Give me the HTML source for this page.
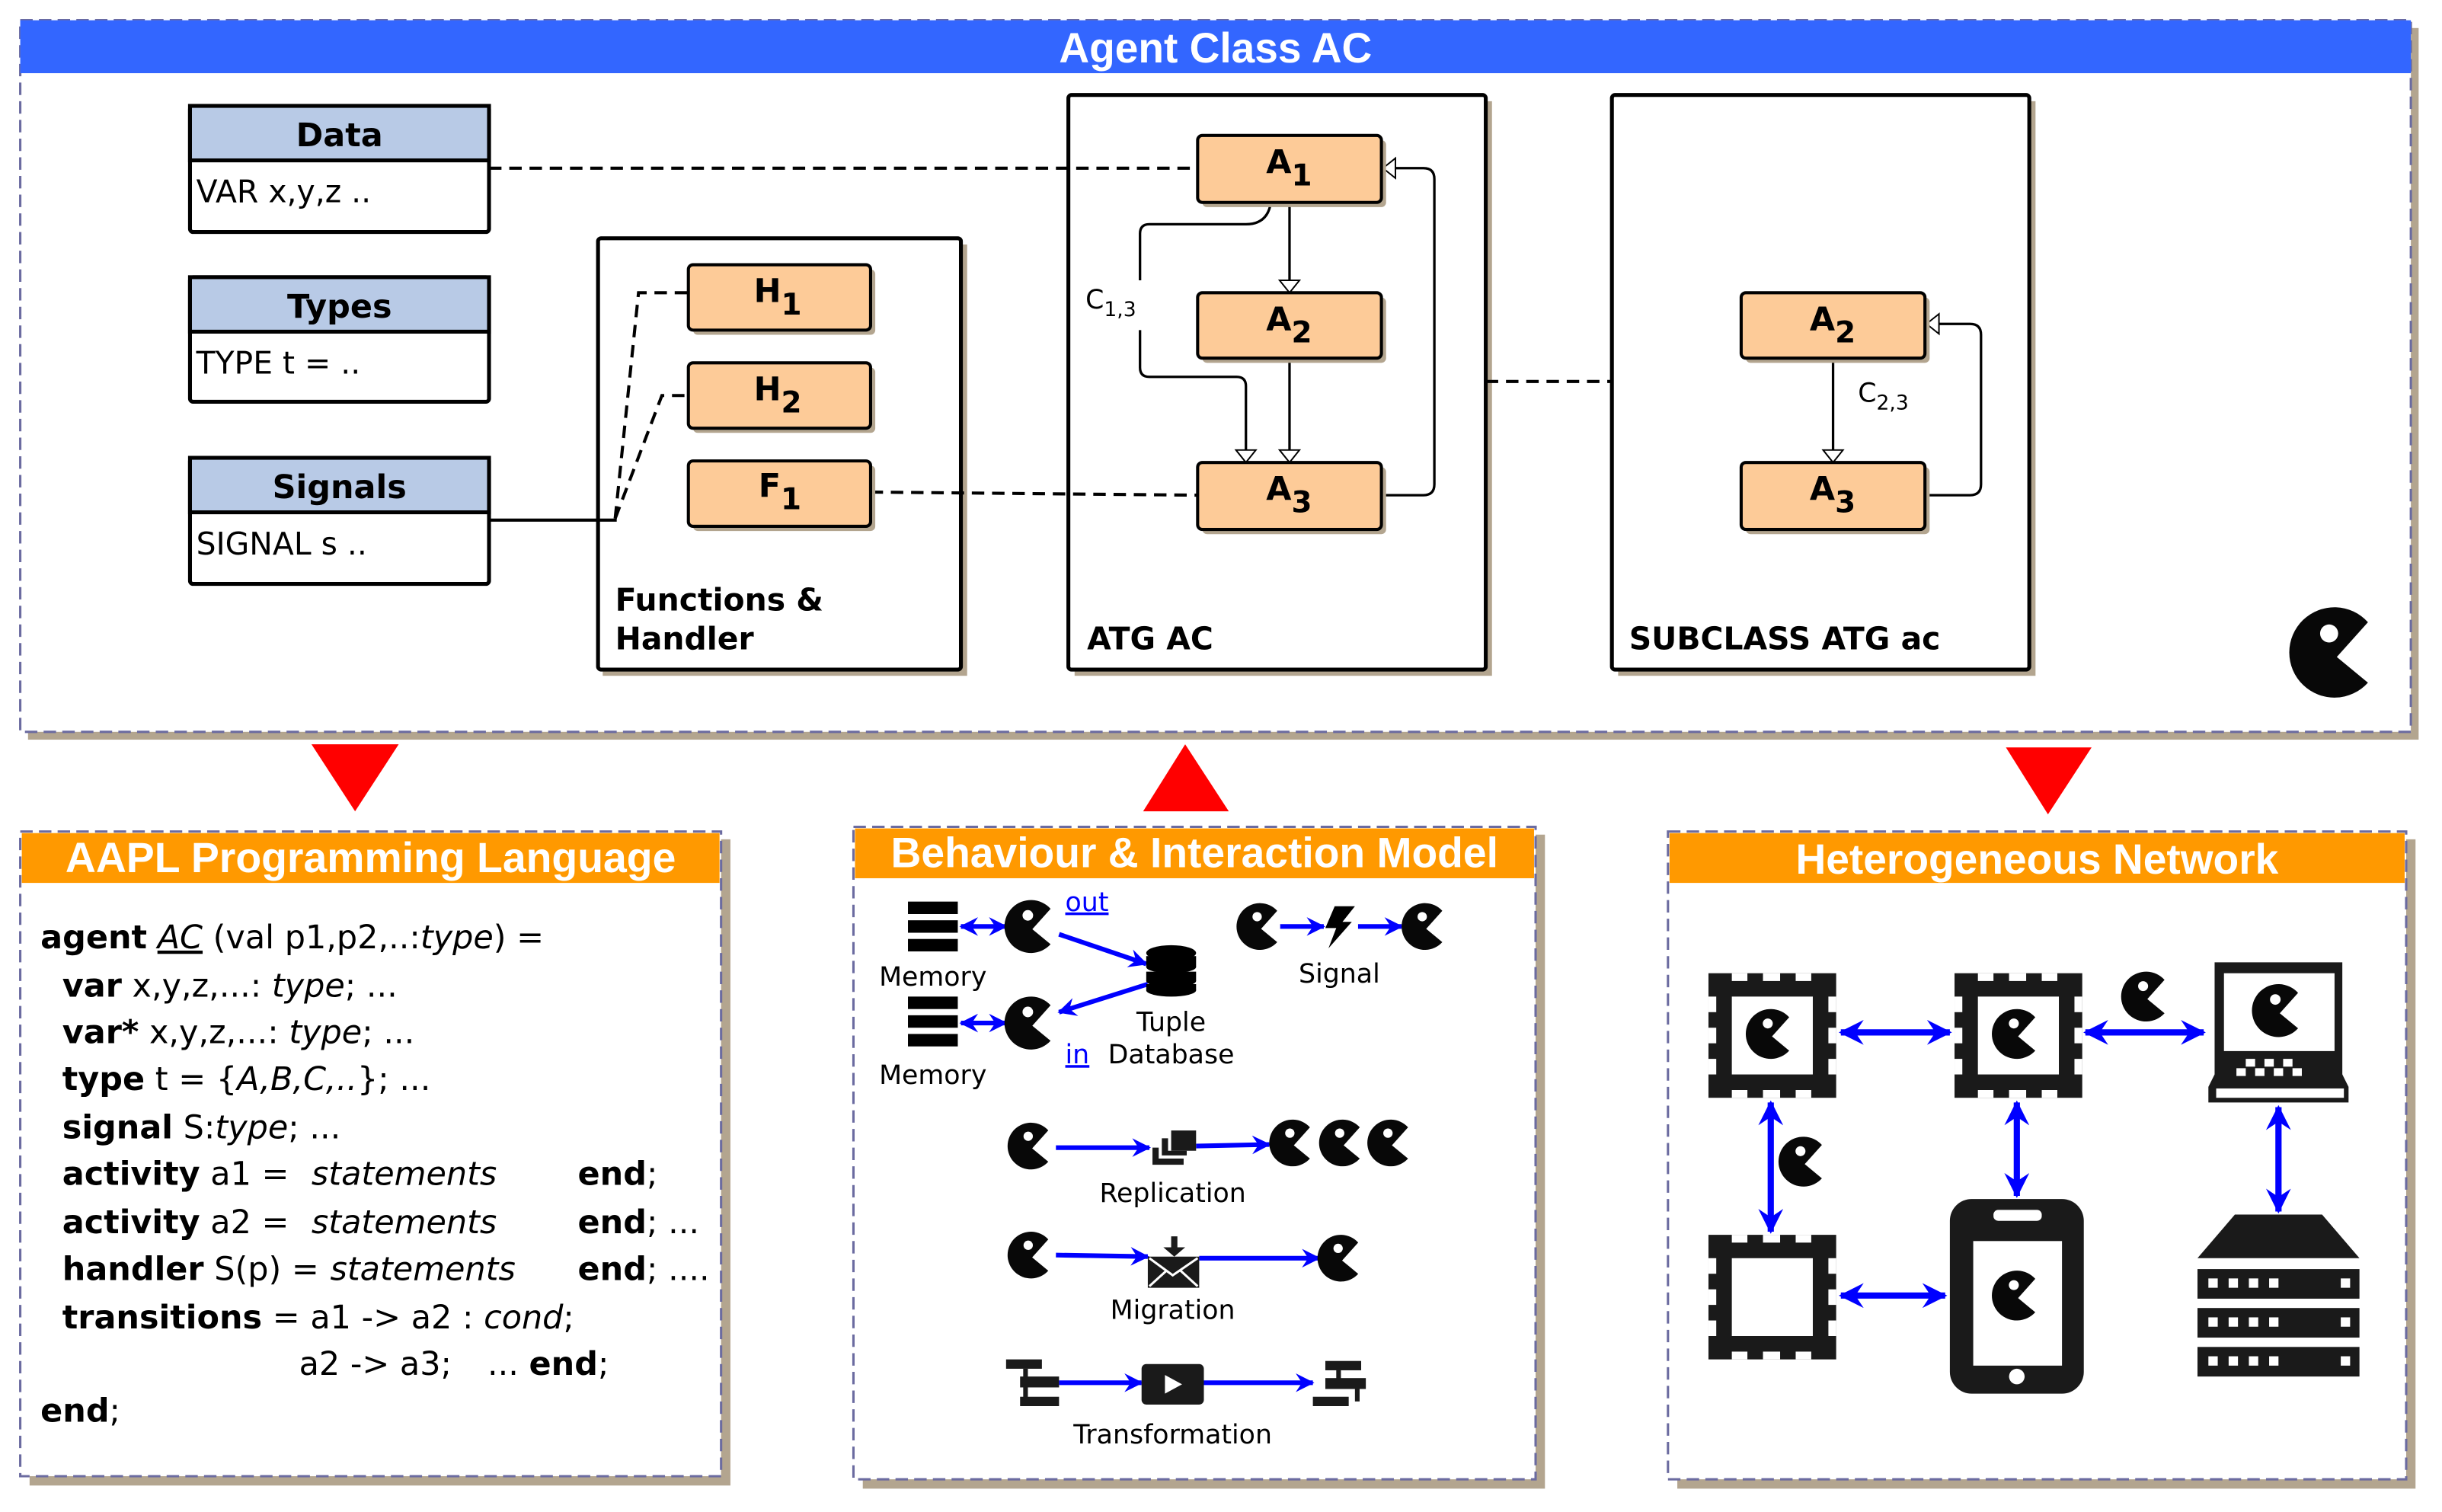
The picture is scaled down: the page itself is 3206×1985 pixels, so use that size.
<!DOCTYPE html>
<html><head><meta charset="utf-8"><style>
html,body{margin:0;padding:0;background:#fff;}
svg{display:block;}
text{font-family:"DejaVu Sans","Liberation Sans",sans-serif;}
.hd{font-family:"Liberation Sans",sans-serif;font-weight:bold;fill:#fff;}
.code{font-family:"DejaVu Sans","Liberation Sans",sans-serif;font-size:21px;}
</style></head><body>
<svg width="3206" height="1985" viewBox="0 0 1568 971" preserveAspectRatio="none" xmlns="http://www.w3.org/2000/svg">
<defs>
<symbol id="pac" viewBox="-1 -1 2 2" overflow="visible">
<path d="M0.74,-0.67 A1,1 0 1 0 0.74,0.67 L0.05,0.1 Z" fill="#080808"/>
<circle cx="-0.12" cy="-0.42" r="0.2" fill="#fff"/>
</symbol>
<marker id="bh" viewBox="0 0 12 12" refX="11" refY="6" markerWidth="4" markerHeight="4" orient="auto-start-reverse" markerUnits="strokeWidth">
<path d="M0,0 L12,6 L0,12 L4,6 Z" fill="#0000ff"/>
</marker>
<marker id="oh" viewBox="0 0 10 20" refX="10" refY="10" markerWidth="10" markerHeight="16" orient="auto" markerUnits="userSpaceOnUse">
<path d="M0,2 L10,10 L0,18 Z" fill="#fff" stroke="#000" stroke-width="1.2"/>
</marker>
<symbol id="chip" viewBox="0 0 82 80" overflow="visible">
<rect x="0" y="0" width="82" height="80" fill="#1a1a1a"/>
<rect x="15" y="15" width="52" height="50" fill="#fff"/>
<g fill="#fff">
<rect x="15" y="0" width="10" height="5"/><rect x="35" y="0" width="11" height="5"/><rect x="56" y="0" width="10" height="5"/>
<rect x="15" y="75" width="10" height="5"/><rect x="35" y="75" width="11" height="5"/><rect x="56" y="75" width="10" height="5"/>
<rect x="0" y="15" width="5" height="10"/><rect x="0" y="35" width="5" height="10"/><rect x="0" y="55" width="5" height="10"/>
<rect x="77" y="15" width="5" height="10"/><rect x="77" y="35" width="5" height="10"/><rect x="77" y="55" width="5" height="10"/>
</g>
</symbol>
</defs>

<!-- ===== Top panel ===== -->
<rect x="18" y="18" width="1535" height="457" fill="#b3a58f"/>
<rect x="13" y="13" width="1535" height="457" fill="#fff" stroke="#6b6ba0" stroke-width="1.5" stroke-dasharray="8,4"/>
<rect x="13" y="13" width="1535" height="34" fill="#3366ff"/>
<text x="680" y="40" class="hd" font-size="27" textLength="201" lengthAdjust="spacingAndGlyphs">Agent Class AC</text>

<!-- data boxes -->
<g stroke="#000" stroke-width="2.5">
<rect x="122" y="68" width="192" height="81" rx="2" fill="#fff"/>
<rect x="122" y="68" width="192" height="35" fill="#b8cae6"/>
<rect x="122" y="178" width="192" height="80" rx="2" fill="#fff"/>
<rect x="122" y="178" width="192" height="35" fill="#b8cae6"/>
<rect x="122" y="294" width="192" height="81" rx="2" fill="#fff"/>
<rect x="122" y="294" width="192" height="35" fill="#b8cae6"/>
</g>
<g font-size="21" font-weight="bold" text-anchor="middle">
<text x="218" y="94">Data</text><text x="218" y="204">Types</text><text x="218" y="320">Signals</text>
</g>
<g font-size="20">
<text x="126" y="130">VAR x,y,z ..</text><text x="126" y="240">TYPE t = ..</text><text x="126" y="356">SIGNAL s ..</text>
</g>

<!-- containers -->
<g fill="#b3a58f"><rect x="387" y="157" width="234" height="277"/><rect x="690" y="65" width="268" height="369"/><rect x="1039" y="65" width="268" height="369"/></g>
<g stroke="#000" stroke-width="2.5" fill="#fff">
<rect x="384" y="153" width="233" height="277" rx="2"/>
<rect x="686" y="61" width="268" height="369" rx="2"/>
<rect x="1035" y="61" width="268" height="369" rx="2"/>
</g>
<g font-size="20" font-weight="bold">
<text x="395" y="392">Functions &amp;</text><text x="395" y="417">Handler</text>
<text x="698" y="417">ATG AC</text>
<text x="1046" y="417">SUBCLASS ATG ac</text>
</g>

<!-- connectors -->
<g stroke="#000" stroke-width="2" fill="none" stroke-dasharray="8,5">
<line x1="314" y1="108" x2="769" y2="108"/>
<line x1="559" y1="316" x2="769" y2="318"/>
<line x1="954" y1="245" x2="1035" y2="245"/>
<polyline points="395,333 410,188 442,188"/>
<polyline points="395,333 425,254 442,254"/>
</g>
<line x1="314" y1="334" x2="396" y2="334" stroke="#000" stroke-width="2"/>

<g stroke="#000" stroke-width="1.6" fill="none">
<line x1="828" y1="130" x2="828" y2="188" marker-end="url(#oh)"/>
<line x1="828" y1="230" x2="828" y2="297" marker-end="url(#oh)"/>
<path d="M816,130 Q814,144 800,144 L738,144 Q732,144 732,150 L732,180 M732,212 L732,236 Q732,242 738,242 L794,242 Q800,242 800,248 L800,297" marker-end="url(#oh)"/>
<path d="M887,318 L914,318 Q921,318 921,311 L921,115 Q921,108 914,108 L888,108" marker-end="url(#oh)"/>
<line x1="1177" y1="230" x2="1177" y2="297" marker-end="url(#oh)"/>
<path d="M1236,318 L1265,318 Q1272,318 1272,311 L1272,215 Q1272,208 1265,208 L1237,208" marker-end="url(#oh)"/>
</g>
<text x="697" y="198" font-size="17">C<tspan font-size="13" dy="5">1,3</tspan></text>
<text x="1193" y="258" font-size="17">C<tspan font-size="13" dy="5">2,3</tspan></text>

<!-- activity boxes -->
<g fill="#b3a58f">
<rect x="445" y="173" width="117" height="42" rx="3"/><rect x="445" y="236" width="117" height="42" rx="3"/><rect x="445" y="299" width="117" height="42" rx="3"/>
<rect x="772" y="90" width="118" height="43" rx="3"/><rect x="772" y="191" width="118" height="42" rx="3"/><rect x="772" y="300" width="118" height="43" rx="3"/>
<rect x="1121" y="191" width="118" height="42" rx="3"/><rect x="1121" y="300" width="118" height="43" rx="3"/>
</g>
<g fill="#fdcb98" stroke="#000" stroke-width="2">
<rect x="442" y="170" width="117" height="42" rx="3"/><rect x="442" y="233" width="117" height="42" rx="3"/><rect x="442" y="296" width="117" height="42" rx="3"/>
<rect x="769" y="87" width="118" height="43" rx="3"/><rect x="769" y="188" width="118" height="42" rx="3"/><rect x="769" y="297" width="118" height="43" rx="3"/>
<rect x="1118" y="188" width="118" height="42" rx="3"/><rect x="1118" y="297" width="118" height="43" rx="3"/>
</g>
<g font-size="21" font-weight="bold">
<text x="484" y="194">H<tspan dy="8" font-size="19">1</tspan></text>
<text x="484" y="257">H<tspan dy="8" font-size="19">2</tspan></text>
<text x="487" y="319">F<tspan dy="8" font-size="19">1</tspan></text>
<text x="813" y="111">A<tspan dy="8" font-size="19">1</tspan></text>
<text x="813" y="212">A<tspan dy="8" font-size="19">2</tspan></text>
<text x="813" y="321">A<tspan dy="8" font-size="19">3</tspan></text>
<text x="1162" y="212">A<tspan dy="8" font-size="19">2</tspan></text>
<text x="1162" y="321">A<tspan dy="8" font-size="19">3</tspan></text>
</g>
<use href="#pac" x="1470" y="390" width="58" height="58"/>

<!-- red triangles -->
<g fill="#ff0000">
<polygon points="200,478 256,478 228,521"/>
<polygon points="734,521 789,521 761,478"/>
<polygon points="1288,480 1343,480 1315,523"/>
</g>

<!-- ===== AAPL panel ===== -->
<rect x="19" y="539" width="450" height="415" fill="#b3a58f"/>
<rect x="13" y="534" width="450" height="414" fill="#fff" stroke="#6b6ba0" stroke-width="1.5" stroke-dasharray="8,4"/>
<rect x="14" y="535" width="448" height="32" fill="#ff9900"/>
<text x="42" y="560" class="hd" font-size="27" textLength="392" lengthAdjust="spacingAndGlyphs">AAPL Programming Language</text>
<g class="code">
<text x="26" y="609"><tspan font-weight="bold">agent</tspan> <tspan font-style="italic" text-decoration="underline">AC</tspan> (val p1,p2,..:<tspan font-style="italic">type</tspan>) =</text>
<text x="40" y="640"><tspan font-weight="bold">var</tspan> x,y,z,...: <tspan font-style="italic">type</tspan>; ...</text>
<text x="40" y="670"><tspan font-weight="bold">var*</tspan> x,y,z,...: <tspan font-style="italic">type</tspan>; ...</text>
<text x="40" y="700"><tspan font-weight="bold">type</tspan> t = {<tspan font-style="italic">A,B,C,..</tspan>}; ...</text>
<text x="40" y="731"><tspan font-weight="bold">signal</tspan> S:<tspan font-style="italic">type</tspan>; ...</text>
<text x="40" y="761"><tspan font-weight="bold">activity</tspan> a1 =</text><text x="200" y="761" font-style="italic">statements</text><text x="371" y="761"><tspan font-weight="bold">end</tspan>;</text>
<text x="40" y="792"><tspan font-weight="bold">activity</tspan> a2 =</text><text x="200" y="792" font-style="italic">statements</text><text x="371" y="792"><tspan font-weight="bold">end</tspan>; ...</text>
<text x="40" y="822"><tspan font-weight="bold">handler</tspan> S(p) =</text><text x="212" y="822" font-style="italic">statements</text><text x="371" y="822"><tspan font-weight="bold">end</tspan>; ....</text>
<text x="40" y="853"><tspan font-weight="bold">transitions</tspan> = a1 -&gt; a2 : <tspan font-style="italic">cond</tspan>;</text>
<text x="192" y="883">a2 -&gt; a3;</text><text x="313" y="883">... <tspan font-weight="bold">end</tspan>;</text>
<text x="26" y="913"><tspan font-weight="bold">end</tspan>;</text>
</g>

<!-- ===== Behaviour panel ===== -->
<rect x="554" y="536" width="438" height="420" fill="#b3a58f"/>
<rect x="548" y="531" width="438" height="419" fill="#fff" stroke="#6b6ba0" stroke-width="1.5" stroke-dasharray="8,4"/>
<rect x="549" y="532" width="436" height="32" fill="#ff9900"/>
<text x="572" y="557" class="hd" font-size="27" textLength="390" lengthAdjust="spacingAndGlyphs">Behaviour &amp; Interaction Model</text>

<g fill="#000">
<rect x="583" y="579" width="32" height="8"/><rect x="583" y="591" width="32" height="8"/><rect x="583" y="603" width="32" height="8"/>
<rect x="583" y="640" width="32" height="8"/><rect x="583" y="652" width="32" height="8"/><rect x="583" y="664" width="32" height="8"/>
</g>
<g stroke="#0000ff" stroke-width="3" fill="none">
<line x1="617" y1="595" x2="646" y2="595" marker-start="url(#bh)" marker-end="url(#bh)"/>
<line x1="617" y1="657" x2="646" y2="657" marker-start="url(#bh)" marker-end="url(#bh)"/>
<line x1="680" y1="600" x2="736" y2="619" marker-end="url(#bh)"/>
<line x1="737" y1="632" x2="680" y2="650" marker-end="url(#bh)"/>
<line x1="822" y1="595" x2="850" y2="595" marker-end="url(#bh)"/>
<line x1="872" y1="595" x2="900" y2="595" marker-end="url(#bh)"/>
<line x1="678" y1="737" x2="738" y2="737" marker-end="url(#bh)"/>
<line x1="768" y1="736" x2="815" y2="735" marker-end="url(#bh)"/>
<line x1="678" y1="806" x2="737" y2="807" marker-end="url(#bh)"/>
<line x1="770" y1="808" x2="847" y2="808" marker-end="url(#bh)"/>
<line x1="680" y1="888" x2="733" y2="888" marker-end="url(#bh)"/>
<line x1="773" y1="888" x2="843" y2="888" marker-end="url(#bh)"/>
</g>
<use href="#pac" x="645" y="578" width="34" height="34"/>
<use href="#pac" x="645" y="640" width="34" height="34"/>
<use href="#pac" x="794" y="580" width="30" height="30"/>
<use href="#pac" x="900" y="580" width="30" height="30"/>
<use href="#pac" x="647" y="721" width="30" height="30"/>
<use href="#pac" x="815" y="719" width="30" height="30"/>
<use href="#pac" x="847" y="719" width="30" height="30"/>
<use href="#pac" x="878" y="719" width="30" height="30"/>
<use href="#pac" x="647" y="791" width="30" height="30"/>
<use href="#pac" x="846" y="793" width="30" height="30"/>
<!-- database -->
<g fill="#000">
<ellipse cx="752" cy="612" rx="16" ry="5"/>
<rect x="736" y="614" width="32" height="7"/><ellipse cx="752" cy="621" rx="16" ry="4"/>
<rect x="736" y="624" width="32" height="6"/><ellipse cx="752" cy="630" rx="16" ry="4"/>
<rect x="736" y="632" width="32" height="4"/><ellipse cx="752" cy="636" rx="16" ry="4"/>
</g>
<!-- lightning -->
<polygon points="857,582 870,582 862,592 868,592 853,609 858,596 851,596" fill="#000"/>
<!-- stack -->
<g fill="#1a1a1a"><rect x="752" y="726" width="16" height="13"/>
<path d="M746,731 h4 v8 h12 v3 h-16z"/><path d="M740,737 h4 v7 h16 v4 h-20z"/></g>
<!-- envelope -->
<g><path d="M752,794 h4 v7 h5 l-7,6 l-7,-6 h5z" fill="#1a1a1a"/>
<rect x="737" y="807" width="33" height="20" fill="#1a1a1a"/>
<path d="M738,808 L753,819 L769,808 M738,826 L749,816 M769,826 L758,816" stroke="#fff" stroke-width="1.5" fill="none"/></g>
<!-- play -->
<rect x="733" y="876" width="40" height="26" rx="3" fill="#1a1a1a"/>
<polygon points="748,883 748,895 759,889" fill="#fff"/>
<!-- trees -->
<g fill="#1a1a1a">
<rect x="646" y="873" width="23" height="6"/><rect x="655" y="884" width="25" height="7"/><rect x="655" y="897" width="25" height="6"/>
<rect x="657" y="879" width="3" height="20"/>
<rect x="851" y="874" width="23" height="6"/><rect x="851" y="885" width="26" height="7"/><rect x="843" y="897" width="23" height="6"/>
<rect x="858" y="880" width="3" height="6"/><rect x="870" y="892" width="3" height="8"/>
</g>
<g font-size="17" text-anchor="middle">
<text x="599" y="633">Memory</text><text x="599" y="696">Memory</text>
<text x="752" y="662">Tuple</text><text x="752" y="683">Database</text>
<text x="860" y="631">Signal</text>
<text x="753" y="772">Replication</text>
<text x="753" y="847">Migration</text>
<text x="753" y="927">Transformation</text>
</g>
<g font-size="17" fill="#0000ff" text-decoration="underline">
<text x="684" y="585">out</text><text x="684" y="683">in</text>
</g>

<!-- ===== Network panel ===== -->
<rect x="1077" y="539" width="474" height="417" fill="#b3a58f"/>
<rect x="1071" y="534" width="474" height="416" fill="#fff" stroke="#6b6ba0" stroke-width="1.5" stroke-dasharray="8,4"/>
<rect x="1072" y="535" width="472" height="32" fill="#ff9900"/>
<text x="1153" y="561" class="hd" font-size="27" textLength="310" lengthAdjust="spacingAndGlyphs">Heterogeneous Network</text>

<g stroke="#0000ff" stroke-width="4" fill="none">
<line x1="1182" y1="663" x2="1252" y2="663" marker-start="url(#bh)" marker-end="url(#bh)"/>
<line x1="1339" y1="663" x2="1415" y2="663" marker-start="url(#bh)" marker-end="url(#bh)"/>
<line x1="1182" y1="832" x2="1249" y2="832" marker-start="url(#bh)" marker-end="url(#bh)"/>
<line x1="1137" y1="708" x2="1137" y2="791" marker-start="url(#bh)" marker-end="url(#bh)"/>
<line x1="1295" y1="708" x2="1295" y2="768" marker-start="url(#bh)" marker-end="url(#bh)"/>
<line x1="1463" y1="711" x2="1463" y2="778" marker-start="url(#bh)" marker-end="url(#bh)"/>
</g>
<use href="#chip" x="1097" y="625" width="82" height="80"/>
<use href="#chip" x="1255" y="625" width="82" height="80"/>
<use href="#chip" x="1097" y="793" width="82" height="80"/>
<use href="#pac" x="1121" y="648" width="32" height="32"/>
<use href="#pac" x="1279" y="648" width="32" height="32"/>
<use href="#pac" x="1362" y="624" width="32" height="32"/>
<use href="#pac" x="1142" y="730" width="32" height="32"/>
<!-- laptop -->
<rect x="1422" y="618" width="82" height="78" fill="#1a1a1a"/>
<rect x="1428" y="625" width="71" height="50" fill="#fff"/>
<path d="M1422,690 L1504,690 L1508,698 L1508,708 L1418,708 L1418,698 Z" fill="#1a1a1a"/>
<rect x="1423" y="699" width="82" height="6" fill="#fff"/>
<g fill="#fff"><rect x="1436" y="686" width="6" height="5"/><rect x="1448" y="686" width="6" height="5"/><rect x="1460" y="686" width="6" height="5"/><rect x="1472" y="686" width="6" height="5"/><rect x="1442" y="680" width="6" height="5"/><rect x="1454" y="680" width="6" height="5"/><rect x="1466" y="680" width="6" height="5"/></g>
<use href="#pac" x="1446" y="632" width="34" height="34"/>
<!-- phone -->
<rect x="1252" y="770" width="86" height="125" rx="14" fill="#1a1a1a"/>
<rect x="1267" y="797" width="57" height="80" fill="#fff"/>
<rect x="1280" y="777" width="31" height="7" rx="3" fill="#fff"/>
<circle cx="1295" cy="884" r="5" fill="#fff"/>
<use href="#pac" x="1279" y="816" width="32" height="32"/>
<!-- server -->
<polygon points="1435,780 1491,780 1515,808 1411,808" fill="#1a1a1a"/>
<g fill="#1a1a1a"><rect x="1411" y="815" width="104" height="19"/><rect x="1411" y="840" width="104" height="19"/><rect x="1411" y="865" width="104" height="19"/></g>
<g fill="#fff">
<rect x="1418" y="821" width="6" height="6"/><rect x="1431" y="821" width="6" height="6"/><rect x="1444" y="821" width="6" height="6"/><rect x="1457" y="821" width="6" height="6"/><rect x="1503" y="821" width="6" height="6"/>
<rect x="1418" y="846" width="6" height="6"/><rect x="1431" y="846" width="6" height="6"/><rect x="1444" y="846" width="6" height="6"/><rect x="1457" y="846" width="6" height="6"/><rect x="1503" y="846" width="6" height="6"/>
<rect x="1418" y="871" width="6" height="6"/><rect x="1431" y="871" width="6" height="6"/><rect x="1444" y="871" width="6" height="6"/><rect x="1457" y="871" width="6" height="6"/><rect x="1503" y="871" width="6" height="6"/>
</g>
</svg>
</body></html>
